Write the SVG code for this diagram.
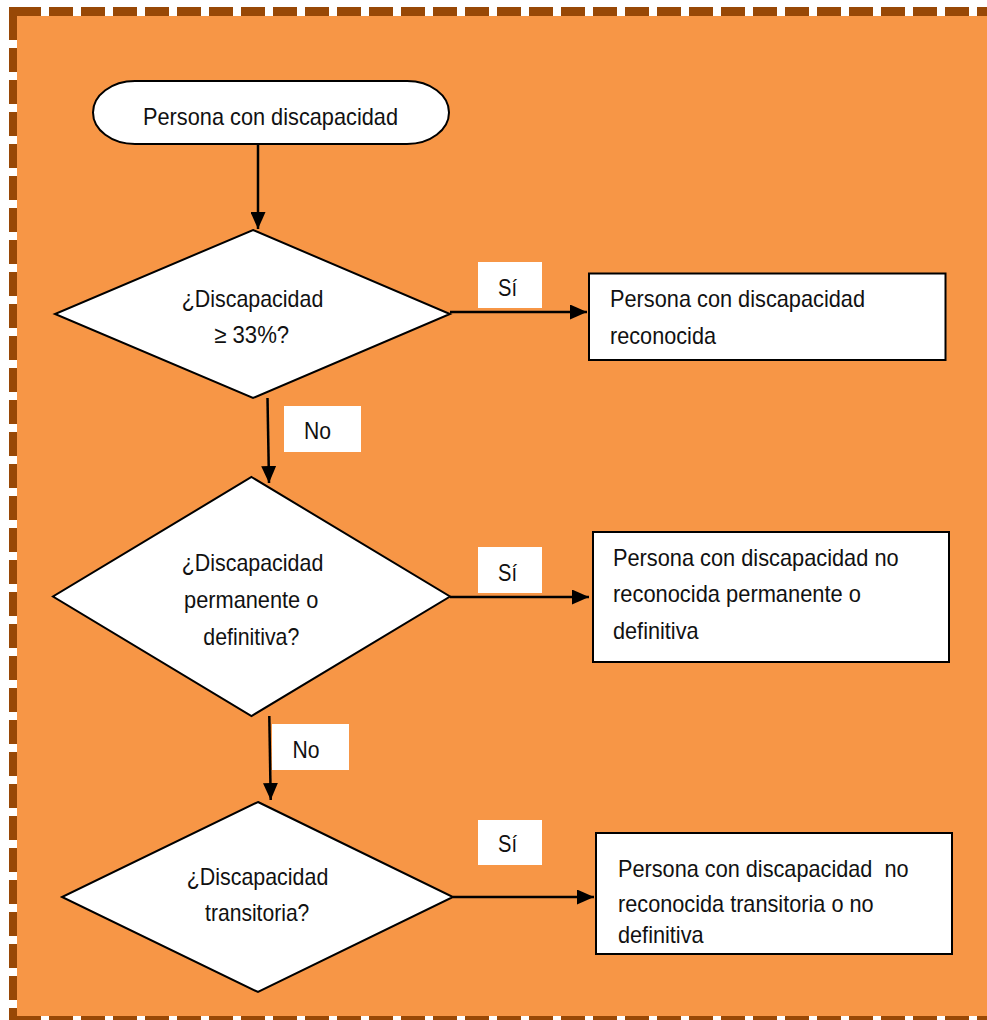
<svg xmlns="http://www.w3.org/2000/svg" width="987" height="1020" viewBox="0 0 987 1020">
  <style>
    .frame { stroke: #984806; stroke-dasharray: 24 8; fill: none; }
    .shape { fill: #ffffff; stroke: #000000; stroke-width: 2; }
    .label-bg { fill: #ffffff; stroke: none; }
    .conn { stroke: #000000; stroke-width: 2.5; fill: none; marker-end: url(#arrow); }
    text { font-family: "Liberation Sans", Arial, sans-serif; font-size: 24px; fill: #111111; }
    .c { text-anchor: middle; }
  </style>
  <defs>
    <marker id="arrow" markerUnits="userSpaceOnUse" markerWidth="17" markerHeight="15" refX="17" refY="7.5" orient="auto">
      <path d="M0,0 L17,7.5 L0,15 z" fill="#000000"/>
    </marker>
  </defs>

  <!-- page background and dashed frame -->
  <rect x="0" y="0" width="987" height="1020" fill="#ffffff"/>
  <rect x="17" y="16" width="970" height="1000" fill="#F79646"/>
  <g id="frame">
    <rect x="9" y="7" width="8" height="9" fill="#984806"/>
    <line class="frame" x1="17" y1="11.5" x2="987" y2="11.5" stroke-width="9"/>
    <line class="frame" x1="13" y1="16" x2="13" y2="1020" stroke-width="8"/>
    <line class="frame" x1="17" y1="1019" x2="987" y2="1019" stroke-width="6"/>
  </g>

  <!-- connectors -->
  <g id="connectors">
    <line class="conn" x1="258" y1="145" x2="258" y2="229"/>
    <line class="conn" x1="450" y1="312" x2="587" y2="312"/>
    <line class="conn" x1="267.5" y1="398" x2="269" y2="483"/>
    <line class="conn" x1="450" y1="597" x2="589" y2="597"/>
    <line class="conn" x1="269.3" y1="716" x2="270.7" y2="800"/>
    <line class="conn" x1="453" y1="897" x2="594" y2="897"/>
  </g>

  <!-- connector labels -->
  <g id="label-si-1">
    <rect class="label-bg" x="478" y="262" width="64" height="46"/>
    <text class="c" x="507.5" y="296" textLength="19" lengthAdjust="spacingAndGlyphs">Sí</text>
  </g>
  <g id="label-no-1">
    <rect class="label-bg" x="284" y="406" width="77" height="46"/>
    <text class="c" x="317.5" y="439" textLength="27" lengthAdjust="spacingAndGlyphs">No</text>
  </g>
  <g id="label-si-2">
    <rect class="label-bg" x="478" y="547" width="64" height="46"/>
    <text class="c" x="507.5" y="581" textLength="19" lengthAdjust="spacingAndGlyphs">Sí</text>
  </g>
  <g id="label-no-2">
    <rect class="label-bg" x="272" y="724" width="77" height="46"/>
    <text class="c" x="306" y="758" textLength="27" lengthAdjust="spacingAndGlyphs">No</text>
  </g>
  <g id="label-si-3">
    <rect class="label-bg" x="478" y="820" width="64" height="45"/>
    <text class="c" x="507.5" y="852" textLength="19" lengthAdjust="spacingAndGlyphs">Sí</text>
  </g>

  <!-- start terminator -->
  <g id="start">
    <rect class="shape" x="93" y="81" width="356" height="63" rx="42" ry="31.5"/>
    <text class="c" x="270.5" y="125" textLength="255" lengthAdjust="spacingAndGlyphs">Persona con discapacidad</text>
  </g>

  <!-- decision 1 -->
  <g id="decision-33">
    <polygon class="shape" points="253,230 450,314 253,398 55,314"/>
    <text class="c" x="252.5" y="307" textLength="141.6" lengthAdjust="spacingAndGlyphs">¿Discapacidad</text>
    <text class="c" x="251.7" y="343" textLength="75" lengthAdjust="spacingAndGlyphs">≥ 33%?</text>
  </g>

  <!-- decision 2 -->
  <g id="decision-permanente">
    <polygon class="shape" points="251.5,477 450,596.5 251.5,716 53,596.5"/>
    <text class="c" x="252.5" y="571" textLength="141.6" lengthAdjust="spacingAndGlyphs">¿Discapacidad</text>
    <text class="c" x="251.2" y="608" textLength="134.3" lengthAdjust="spacingAndGlyphs">permanente o</text>
    <text class="c" x="251.3" y="645" textLength="96" lengthAdjust="spacingAndGlyphs">definitiva?</text>
  </g>

  <!-- decision 3 -->
  <g id="decision-transitoria">
    <polygon class="shape" points="258,802 453,897 258,992 62,897"/>
    <text class="c" x="257.5" y="885" textLength="141.6" lengthAdjust="spacingAndGlyphs">¿Discapacidad</text>
    <text class="c" x="257.2" y="921" textLength="104.3" lengthAdjust="spacingAndGlyphs">transitoria?</text>
  </g>

  <!-- outcome 1 -->
  <g id="result-reconocida">
    <rect class="shape" x="589" y="273.5" width="356.5" height="86.5"/>
    <text x="610" y="307" textLength="255" lengthAdjust="spacingAndGlyphs">Persona con discapacidad</text>
    <text x="610" y="344" textLength="106" lengthAdjust="spacingAndGlyphs">reconocida</text>
  </g>

  <!-- outcome 2 -->
  <g id="result-permanente">
    <rect class="shape" x="593" y="532" width="356" height="130"/>
    <text x="613" y="566" textLength="285.6" lengthAdjust="spacingAndGlyphs">Persona con discapacidad no</text>
    <text x="613" y="602" textLength="248" lengthAdjust="spacingAndGlyphs">reconocida permanente o</text>
    <text x="613" y="639" textLength="85.6" lengthAdjust="spacingAndGlyphs">definitiva</text>
  </g>

  <!-- outcome 3 -->
  <g id="result-transitoria">
    <rect class="shape" x="596" y="833" width="356" height="121"/>
    <text x="618" y="877" textLength="290.6" lengthAdjust="spacingAndGlyphs" xml:space="preserve">Persona con discapacidad  no</text>
    <text x="618" y="912" textLength="255.6" lengthAdjust="spacingAndGlyphs">reconocida transitoria o no</text>
    <text x="618" y="943" textLength="85.6" lengthAdjust="spacingAndGlyphs">definitiva</text>
  </g>
</svg>
